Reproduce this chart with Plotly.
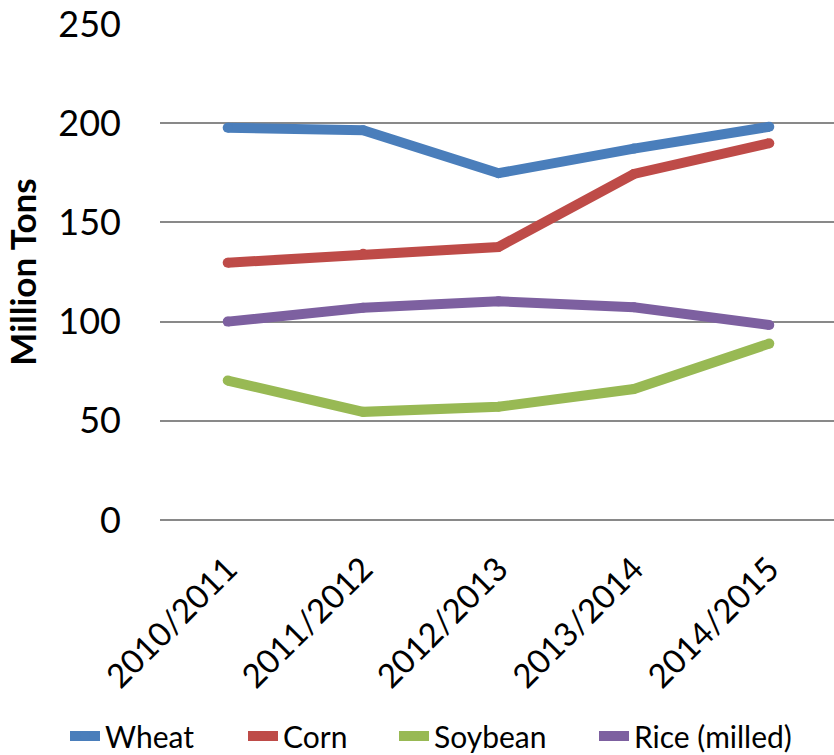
import plotly.graph_objects as go

seasons = ["2010/2011", "2011/2012", "2012/2013", "2013/2014", "2014/2015"]
wheat = [197.7, 196.5, 174.8, 187.2, 198.2]
corn = [129.7, 134.2, 137.6, 174.4, 189.9]
soybean = [70.3, 54.5, 57.1, 66.0, 88.9]
rice = [100.0, 107.0, 110.2, 107.2, 98.3]

series = [
    ("Wheat", wheat, "#4A7EBB"),
    ("Corn", corn, "#BE4B48"),
    ("Soybean", soybean, "#98B954"),
    ("Rice (milled)", rice, "#7D60A0"),
]
legend_text_x = [107, 285, 436, 636]  # where each legend entry's label begins (px)

FONT = "Lato, Arial, sans-serif"
fig = go.Figure()
legend_ids = ["legend", "legend2", "legend3", "legend4"]
for (name, vals, color), lid in zip(series, legend_ids):
    fig.add_trace(go.Scatter(
        x=list(range(len(seasons))), y=vals, name=name, mode="lines+markers",
        line=dict(color=color, width=10),
        marker=dict(color=color, size=10, line=dict(width=0)),
        legend=lid,
    ))

layout_legends = {}
for lid, tx in zip(legend_ids, legend_text_x):
    layout_legends[lid] = dict(
        orientation="h", xref="container", yref="container",
        x=(tx - 42) / 834, xanchor="left", y=1 - 736 / 755, yanchor="middle",
        font=dict(size=30, family=FONT), bgcolor="rgba(0,0,0,0)",
    )

fig.update_layout(
    width=834, height=755,
    margin=dict(l=160, r=0, t=24, b=235),
    paper_bgcolor="white", plot_bgcolor="white",
    font=dict(family=FONT, color="black"),
    showlegend=True,
    **layout_legends,
    xaxis=dict(
        range=[-0.5, 4.478],
        tickmode="array", tickvals=list(range(len(seasons))), ticktext=seasons,
        tickangle=-45, tickfont=dict(size=33, family=FONT),
        showgrid=False, zeroline=False, showline=False, ticks="",
        ticklabelstandoff=22,
    ),
    yaxis=dict(
        range=[0, 250], tickmode="array", tickvals=[0, 50, 100, 150, 200, 250],
        tickfont=dict(size=36, family=FONT),
        showgrid=True, gridcolor="#898989", gridwidth=1.5,
        zeroline=True, zerolinecolor="#898989", zerolinewidth=1.5,
        showline=False, ticks="", ticklabelstandoff=38,
        title=dict(text="<b>Million Tons</b>", font=dict(size=35, family=FONT), standoff=11),
    ),
)

fig.write_html("out.html")
